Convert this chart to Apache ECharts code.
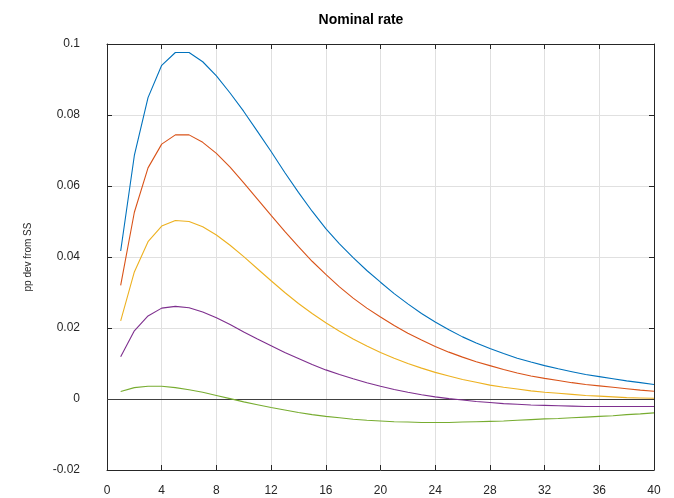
<!DOCTYPE html>
<html>
<head>
<meta charset="utf-8">
<script src="https://cdn.jsdelivr.net/npm/echarts@6/dist/echarts.min.js"></script>
<style>
  html, body { margin: 0; padding: 0; background: #fff; }
  #chart { width: 674px; height: 498px; }
</style>
</head>
<body>
<div id="chart"></div>
<script>
const quarters = Array.from({ length: 40 }, (_, i) => i + 1)

const blue = [0.0417, 0.0686, 0.0849, 0.0940, 0.0976, 0.0976, 0.0950, 0.0910, 0.0862, 0.0810,
  0.0754, 0.0697, 0.0638, 0.0582, 0.0529, 0.0480, 0.0437, 0.0398, 0.0362, 0.0329,
  0.0297, 0.0268, 0.0241, 0.0217, 0.0195, 0.0175, 0.0158, 0.0142, 0.0128, 0.0115,
  0.0104, 0.0094, 0.0085, 0.0077, 0.0069, 0.0063, 0.0057, 0.0051, 0.0046, 0.0041]
const red = [0.0320, 0.0526, 0.0651, 0.0718, 0.0744, 0.0744, 0.0723, 0.0692, 0.0653, 0.0609,
  0.0563, 0.0517, 0.0472, 0.0429, 0.0388, 0.0351, 0.0316, 0.0284, 0.0256, 0.0231,
  0.0207, 0.0185, 0.0166, 0.0148, 0.0132, 0.0118, 0.0105, 0.0094, 0.0083, 0.0073,
  0.0065, 0.0058, 0.0052, 0.0046, 0.0041, 0.0037, 0.0033, 0.0029, 0.0025, 0.0022]
const yellow = [0.0220, 0.0358, 0.0443, 0.0487, 0.0503, 0.0500, 0.0485, 0.0462, 0.0433, 0.0401,
  0.0367, 0.0333, 0.0300, 0.0269, 0.0241, 0.0215, 0.0191, 0.0169, 0.0149, 0.0131,
  0.0115, 0.0100, 0.0087, 0.0075, 0.0065, 0.0055, 0.0047, 0.0039, 0.0033, 0.0028,
  0.0023, 0.0019, 0.0016, 0.0013, 0.0010, 0.0008, 0.0006, 0.0004, 0.0003, 0.0002]
const purple = [0.0119, 0.0192, 0.0234, 0.0256, 0.0261, 0.0257, 0.0245, 0.0229, 0.0210, 0.0189,
  0.0169, 0.0150, 0.0131, 0.0114, 0.0097, 0.0082, 0.0069, 0.0057, 0.0046, 0.0036,
  0.0027, 0.0019, 0.0012, 0.0006, 0.0001, -0.0003, -0.0007, -0.0010, -0.0013, -0.0015,
  -0.0017, -0.0018, -0.0019, -0.0020, -0.0021, -0.0021, -0.0021, -0.0021, -0.0021, -0.0021]
const green = [0.0021, 0.0032, 0.0036, 0.0036, 0.0032, 0.0026, 0.0019, 0.0010, 0.0001, -0.0008,
  -0.0016, -0.0024, -0.0031, -0.0038, -0.0044, -0.0049, -0.0053, -0.0057, -0.0060, -0.0062,
  -0.0064, -0.0065, -0.0066, -0.0066, -0.0066, -0.0065, -0.0064, -0.0063, -0.0062, -0.0060,
  -0.0058, -0.0056, -0.0055, -0.0053, -0.0051, -0.0049, -0.0047, -0.0044, -0.0042, -0.0039]

const lines = [
  { vals: blue, color: '#0072BD' },
  { vals: red, color: '#D95319' },
  { vals: yellow, color: '#EDB120' },
  { vals: purple, color: '#7E2F8E' },
  { vals: green, color: '#77AC30' }
]

const chart = echarts.init(document.getElementById('chart'), null, { renderer: 'canvas' })
const font = 'Liberation Sans, Arial, sans-serif'
const axisColor = '#262626'

const baseX = { type: 'value', min: 0, max: 40, interval: 4 }
const baseY = { type: 'value', min: -0.02, max: 0.1, interval: 0.02 }

chart.setOption({
  animation: false,
  backgroundColor: '#fff',
  title: {
    text: 'Nominal rate', left: 356, top: 8, textAlign: 'center',
    textStyle: { fontFamily: font, fontSize: 14, fontWeight: 'bold', color: '#000' }
  },
  grid: { left: 107, right: 20, top: 44, bottom: 28 },
  xAxis: [
    { ...baseX, position: 'bottom',
      axisLine: { show: true, onZero: false, lineStyle: { color: axisColor, width: 1 } },
      axisTick: { show: true, inside: true, length: 5, lineStyle: { color: axisColor } },
      axisLabel: { color: axisColor, fontFamily: font, fontSize: 12, margin: 15 },
      splitLine: { show: true, lineStyle: { color: '#e0e0e0', width: 1 } } },
    { ...baseX, position: 'top',
      axisLine: { show: true, onZero: false, lineStyle: { color: axisColor, width: 1 } },
      axisTick: { show: true, inside: true, length: 5, lineStyle: { color: axisColor } },
      axisLabel: { show: false }, splitLine: { show: false } }
  ],
  yAxis: [
    { ...baseY, position: 'left',
      name: 'pp dev from SS', nameLocation: 'middle', nameGap: 74,
      nameTextStyle: { fontFamily: font, fontSize: 10, color: axisColor },
      axisLine: { show: true, onZero: false, lineStyle: { color: axisColor, width: 1 } },
      axisTick: { show: true, inside: true, length: 5, lineStyle: { color: axisColor } },
      axisLabel: { color: axisColor, fontFamily: font, fontSize: 12, margin: 27,
        padding: [0, 0, 8, 0],
        formatter: v => String(+v.toFixed(2)) },
      splitLine: { show: true, lineStyle: { color: '#e0e0e0', width: 1 } } },
    { ...baseY, position: 'right',
      axisLine: { show: true, onZero: false, lineStyle: { color: axisColor, width: 1 } },
      axisTick: { show: true, inside: true, length: 5, lineStyle: { color: axisColor } },
      axisLabel: { show: false }, splitLine: { show: false } }
  ],
  series: lines.map((l, i) => ({
    type: 'line',
    data: quarters.map((q, k) => [q, l.vals[k]]),
    showSymbol: false,
    lineStyle: { color: l.color, width: 1.1 },
    z: 3 + i,
    markLine: i === 0 ? {
      silent: true, symbol: 'none', label: { show: false },
      lineStyle: { color: '#404040', width: 1.2, type: 'solid' },
      data: [{ yAxis: 0 }]
    } : undefined
  }))
})
</script>
</body>
</html>
